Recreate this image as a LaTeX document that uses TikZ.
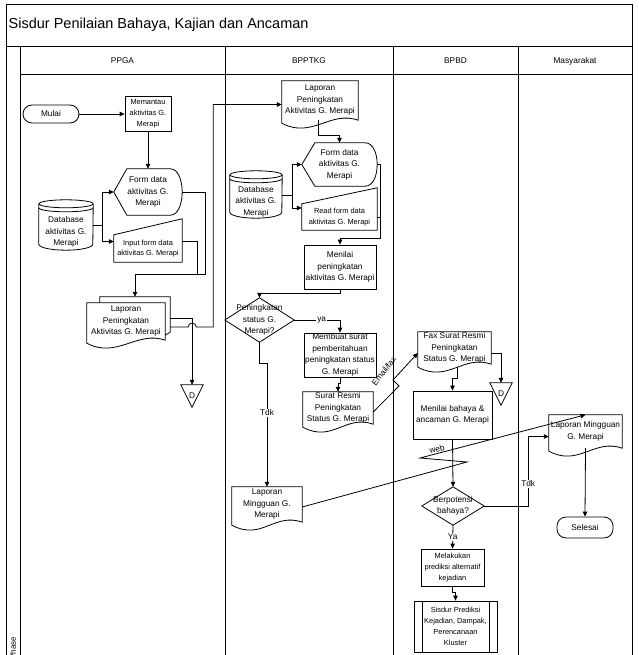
\documentclass[tikz,border=0pt]{standalone}
\usepackage{fontspec}
\setmainfont{Liberation Sans}
\usetikzlibrary{arrows.meta}

\begin{document}
\begin{tikzpicture}[x=1pt, y=-1pt,
    every node/.style={font=\fontsize{8.3}{11.5}\selectfont, align=center, inner sep=0.5pt},
    smalltxt/.style={font=\fontsize{7.4}{10.8}\selectfont},
    shp/.style={line width=0.8pt},
    lanes/.style={line width=1pt},
    lne/.style={line width=0.8pt},
    arr/.style={line width=0.8pt, -{Triangle[length=5pt, width=4.5pt]}},
    lbl/.style={fill=white, inner sep=1pt},
    proc/.style={draw, line width=0.8pt},
    term/.style={draw, line width=0.8pt, rounded corners=9pt},
    docnode/.style={minimum width=#1, append after command={\pgfextra{
        \draw[shp] (\tikzlastnode.north west) -- (\tikzlastnode.north east) -- (\tikzlastnode.south east)
          .. controls +(-28pt,10pt) and +(30pt,-16pt) .. ([yshift=-3pt]\tikzlastnode.south west) -- cycle;}}},
    multidoc/.style={append after command={\pgfextra{
        \draw[shp] ([xshift=13pt]\tikzlastnode.north west) -- ++(0pt,6pt) -| ([shift={(5pt,8pt)}]\tikzlastnode.south east)
          -- ([yshift=5pt]\tikzlastnode.south east);}}},
    dispnode/.style={append after command={\pgfextra{
        \draw[shp] (\tikzlastnode.west) -- ([xshift=13pt]\tikzlastnode.north west) -- ([xshift=-12pt]\tikzlastnode.north east)
          .. controls ([xshift=4pt]\tikzlastnode.north east) and ([xshift=4pt]\tikzlastnode.south east) .. ([xshift=-12pt]\tikzlastnode.south east)
          -- ([xshift=13pt]\tikzlastnode.south west) -- cycle;}}},
    maninnode/.style={append after command={\pgfextra{
        \draw[shp] (\tikzlastnode.north west) -- ([yshift=16pt]\tikzlastnode.north east) -- (\tikzlastnode.south east)
          -- (\tikzlastnode.south west) -- cycle;}}},
    dbnode/.style={minimum width=#1, append after command={\pgfextra{
        \draw[shp] ([yshift=10pt]\tikzlastnode.north) ellipse [x radius=0.5*#1, y radius=4pt];
        \draw[shp] ([yshift=10pt]\tikzlastnode.north west) -- ([yshift=6pt]\tikzlastnode.south west)
          arc [start angle=180, end angle=360, x radius=0.5*#1, y radius=6pt] -- ([yshift=10pt]\tikzlastnode.north east);
        \draw[shp] ([yshift=6pt]\tikzlastnode.north west) arc [start angle=180, end angle=360, x radius=0.5*#1, y radius=4pt];}}},
    decnode/.style={append after command={\pgfextra{
        \draw[shp] (\tikzlastnode.north) -- (\tikzlastnode.east) -- (\tikzlastnode.south) -- (\tikzlastnode.west) -- cycle;}}},
    offpage/.style={minimum width=22pt, minimum height=22pt, append after command={\pgfextra{
        \draw[shp] (\tikzlastnode.north west) -- (\tikzlastnode.north east) -- (\tikzlastnode.south) -- cycle;}}},
    predef/.style={draw, line width=0.8pt, append after command={\pgfextra{
        \draw[shp] ([xshift=9pt]\tikzlastnode.north west) -- ([xshift=9pt]\tikzlastnode.south west);
        \draw[shp] ([xshift=-8pt]\tikzlastnode.north east) -- ([xshift=-8pt]\tikzlastnode.south east);}}}]

        \useasboundingbox (0,0) rectangle (638,655);

        %---------------- Frame and lanes ----------------%
        \draw[lanes] (6,5) rectangle (632,660);
        \draw[lanes] (6,47) -- (632,47);
        \draw[lanes] (20,47) -- (20,660);
        \draw[lanes] (20,75) -- (632,75);
        \foreach \x in {225,393,518}
            \draw[lanes] (\x,47) -- (\x,660);
        \node[anchor=west, font=\fontsize{14.5}{17}\selectfont] (title) at (8,25) {Sisdur Penilaian Bahaya, Kajian dan Ancaman};
        \node (hPPGA) at (122.5,61) {PPGA};
        \node (hBPPTKG) at (309,61) {BPPTKG};
        \node (hBPBD) at (455.5,61) {BPBD};
        \node (hMasy) at (575,61) {Masyarakat};
        \node[rotate=90, font=\fontsize{8}{10}\selectfont] (phase) at (13,648) {Phase};

        %---------------- PPGA ----------------%
        \node[term, minimum width=56pt, minimum height=18pt] (mulai) at (51,114) {Mulai};
        \node[proc, smalltxt, minimum width=46pt, minimum height=35pt] (memantau) at (148,114) {Memantau\\aktivitas G.\\Merapi};
        \node[dispnode, minimum width=68pt, minimum height=46pt] (formP) at (148,192) {Form data\\aktivitas G.\\Merapi};
        \node[dbnode=54pt, minimum height=36pt] (dbP) at (66,232) {Database\\aktivitas G.\\Merapi};
        \node[maninnode, smalltxt, minimum width=68pt, minimum height=27pt] (inputP) at (148,248.5) {Input form data\\aktivitas G. Merapi};
        \node[docnode=78pt, multidoc, minimum height=37pt] (lapP) at (126,321.5) {Laporan\\Peningkatan\\Aktivitas G. Merapi};
        \node[offpage] (dP) at (192,396) {D};

        %---------------- BPPTKG ----------------%
        \node[docnode=76pt, minimum height=39pt] (lapB) at (320,100.5) {Laporan\\Peningkatan\\Aktivitas G. Merapi};
        \node[dispnode, minimum width=75pt, minimum height=43pt] (formB) at (339.5,164.5) {Form data\\aktivitas G.\\Merapi};
        \node[dbnode=52pt, minimum height=33pt] (dbB) at (256,201.5) {Database\\aktivitas G.\\Merapi};
        \node[maninnode, smalltxt, minimum width=75pt, minimum height=26pt] (readB) at (339.5,217) {Read form data\\aktivitas G. Merapi};
        \node[proc, minimum width=72pt, minimum height=44pt] (menilaiB) at (340,267) {Menilai\\peningkatan\\aktivitas G. Merapi};
        \node[decnode, minimum width=69pt, minimum height=44pt] (decB) at (259.5,320) {Peningkatan\\status G.\\Merapi?};
        \node[proc, minimum width=72pt, minimum height=44pt] (membuat) at (340,355) {Membuat surat\\pemberitahuan\\peningkatan status\\G. Merapi};
        \node[docnode=70pt, minimum height=32pt] (suratB) at (338,408) {Surat Resmi\\Peningkatan\\Status G. Merapi};
        \node[docnode=70pt, minimum height=35pt] (lapMB) at (267,504.5) {Laporan\\Mingguan G.\\Merapi};

        %---------------- BPBD ----------------%
        \node[docnode=73pt, minimum height=32pt] (faxD) at (454.5,348) {Fax Surat Resmi\\Peningkatan\\Status G. Merapi};
        \node[offpage] (dB) at (501,394) {D};
        \node[proc, minimum width=79pt, minimum height=48pt] (menilaiD) at (452.5,415) {Menilai bahaya \&\\ancaman G. Merapi};
        \node[decnode, minimum width=62pt, minimum height=38pt] (decD) at (453,506) {Berpotensi\\bahaya?};
        \node[proc, smalltxt, minimum width=63pt, minimum height=37pt] (melakukan) at (452.5,567.5) {Melakukan\\prediksi alternatif\\kejadian};
        \node[predef, smalltxt, minimum width=83pt, minimum height=51pt] (sisdur) at (455.5,626.5) {Sisdur Prediksi\\Kejadian, Dampak,\\Perencanaan\\Kluster};

        %---------------- Masyarakat ----------------%
        \node[docnode=73pt, minimum height=33pt] (lapMM) at (585.5,431.5) {Laporan Mingguan\\G. Merapi};
        \node[term, minimum width=56pt, minimum height=21pt] (selesai) at (585,527.5) {Selesai};

        % PPGA
        \draw[arr] (mulai) -- (memantau);
        \draw[arr] (memantau) -- (formP);
        \draw[arr] ([yshift=7pt]dbP.east) -- ++(9,0) |- (formP.west);
        \draw[arr] ([yshift=7pt]dbP.east) -- ++(9,0) |- ([yshift=7pt]inputP.west);
        \draw[arr] (formP.east) -- ++(23,0) -- ++(0,82) -| ([shift={(9pt,6pt)}]lapP.north);
        \draw[lne] ([yshift=7pt]inputP.east) -- ++(15,0) -- ++(0,32.5);
        \draw[arr] ([shift={(5pt,3.5pt)}]lapP.east) -| (dP.north);
        \draw[arr] ([shift={(5pt,-5.5pt)}]lapP.east) -- ++(18,0) arc[start angle=180, end angle=0, radius=4pt] -- ++(17,0) |- ([yshift=-4pt]lapB.west);
        % BPPTKG
        \draw[arr] ([xshift=-2pt]lapB.south) -- ++(0,15) -| (formB.north);
        \draw[arr] ([yshift=6.5pt]dbB.east) -- ++(10,0) |- (formB.west);
        \draw[arr] ([yshift=6.5pt]dbB.east) -- ++(10,0) |- ([yshift=9pt]readB.west);
        \draw[arr] (formB.east) -- ++(3,0) -- ++(0,73.5) -| (menilaiB.north);
        \draw[lne] (readB.east) -- ++(3,0);
        \draw[arr] (menilaiB.south) -- ++(0,4) -| (decB.north);
        \draw[arr] (decB.east) -| node[lbl, pos=0.3] (yaB) {ya} (membuat.north);
        \draw[arr] (membuat.south) -- ++(0,6) -| (suratB.north);
        \draw[arr] (decB.south) -- ++(0,21) -| node[lbl, pos=0.7] (tdkB) {Tdk} (lapMB.north);
        \draw[arr] ([yshift=-4pt]suratB.east) -- (399,386) -- (393,380) -- ([yshift=-5pt]faxD.west);
        \node[rotate=52] (emailLbl) at (384,371) {Email/fax};
        % BPBD
        \draw[arr] ([yshift=-5pt]faxD.east) -| (dB.north);
        \draw[arr] ([shift={(2.5pt,-3pt)}]faxD.south) -- ++(0,11) -| (menilaiD.north);
        \draw[arr] (menilaiD.south) -- (decD.north);
        \draw[arr] (decD.south) -- node[lbl] (yaD) {Ya} (melakukan.north);
        \draw[arr] (melakukan.south) -- ++(0,6) -| (sisdur.north);
        \draw[arr] (decD.east) -- ++(44,0) |- node[lbl, pos=0.16] (tdkD) {Tdk} ([yshift=-5pt]lapMM.west);
        \draw[arr] ([yshift=-2.5pt]lapMB.east) -- (467,462) -- (420,458) -- (lapMM.north);
        \node[rotate=15] (webLbl) at (437,449) {web};
        % Masyarakat
        \draw[arr] (lapMM.south) -- (selesai.north);
    \end{tikzpicture}
\end{document}
